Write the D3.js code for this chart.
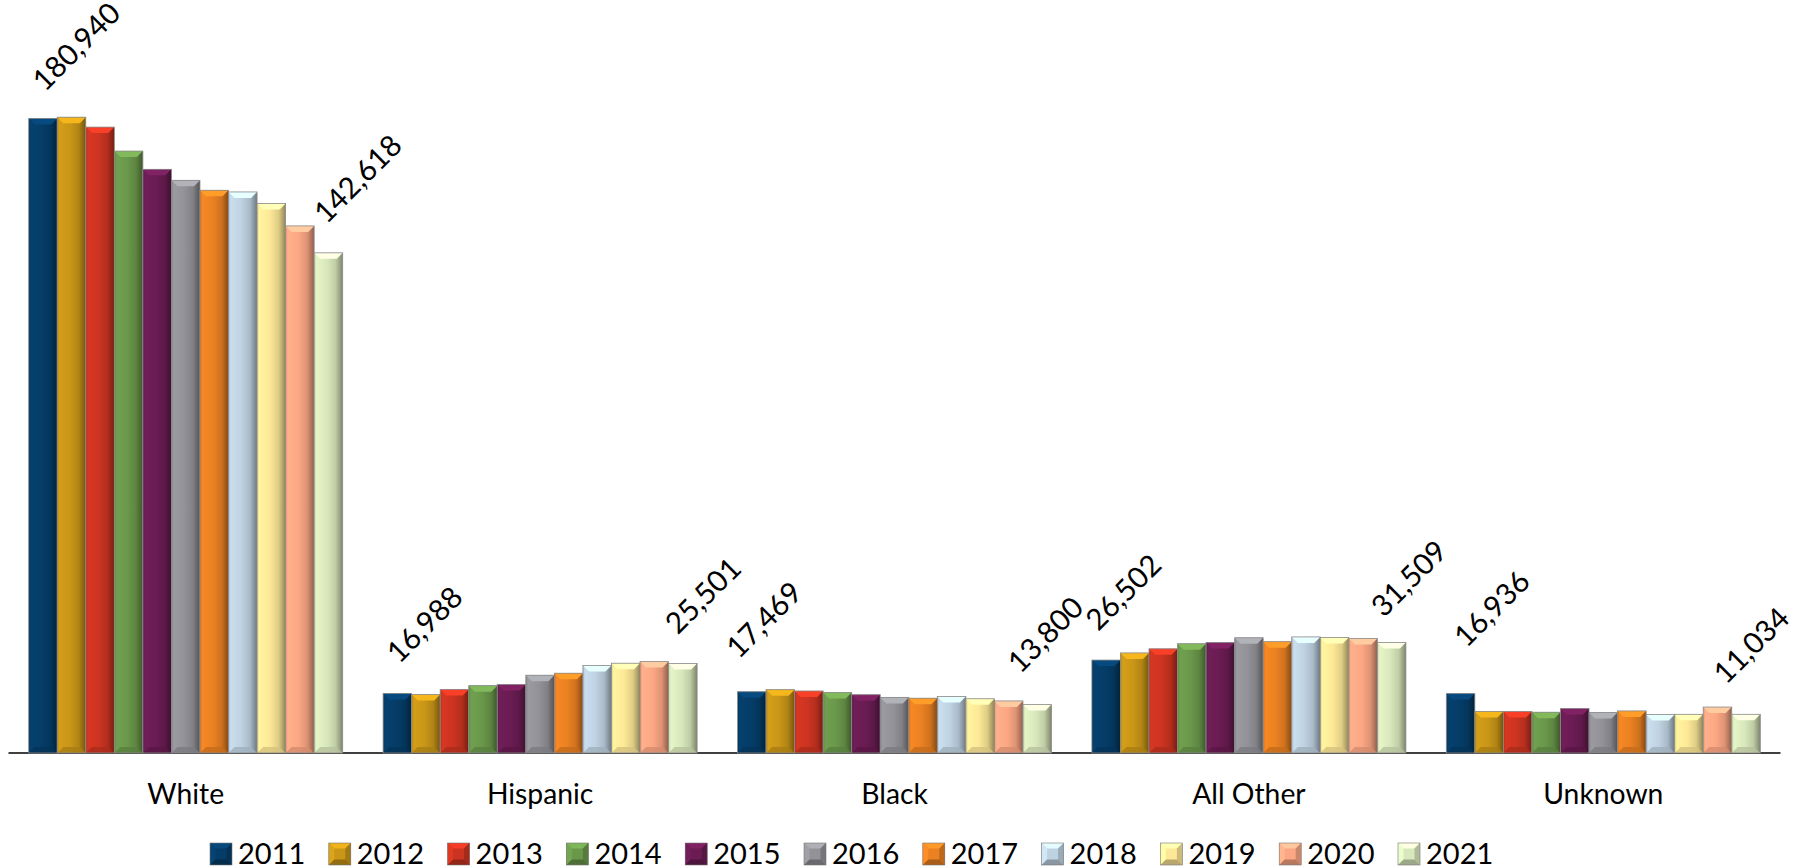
<!DOCTYPE html>
<html>
<head>
<meta charset="utf-8">
<script src="https://cdn.jsdelivr.net/npm/d3@7"></script>
<style>
  html, body { margin: 0; padding: 0; background: #fff; }
  svg { display: block; }
  text { font-family: Lato, "Open Sans", sans-serif; fill: #000; }
</style>
</head>
<body>
<svg id="chart" width="1795" height="866"></svg>
<script>
// ---- DATA ----
const categories = ["White", "Hispanic", "Black", "All Other", "Unknown"];
const years = ["2011","2012","2013","2014","2015","2016","2017","2018","2019","2020","2021"];
const white    = [180940, 181300, 178470, 171640, 166430, 163300, 160460, 159980, 156670, 150300, 142618];
const hispanic = [16988, 16660, 18110, 19210, 19540, 22180, 22750, 24930, 25600, 26060, 25501];
const black    = [17469, 18060, 17690, 17235, 16620, 15860, 15630, 16090, 15470, 14850, 13800];
const allOther = [26502, 28540, 29700, 31160, 31500, 32860, 31740, 33100, 32960, 32620, 31509];
const unknown  = [16936, 11810, 11810, 11630, 12670, 11550, 12000, 10960, 11030, 13110, 11034];
const seriesByCategory = [white, hispanic, black, allOther, unknown];
const colors = ["#053d68", "#c99617", "#cc3421", "#6a984b", "#6a1c53", "#929298",
                "#ea8122", "#bfd2e2", "#fde897", "#fca784", "#d9e8bc"];

// label nudges (first / last label of each category), relative to bar top-centre
const labelNudge = [
  [[2, -26], [-2, -28]],
  [[2, -29], [-5, -28]],
  [[-13, -32], [-17, -30]],
  [[-8, -28], [-8, -24]],
  [[6, -45], [-20, -29]]
];

// ---- LAYOUT ----
const FONT = "Lato, 'Open Sans', sans-serif";
const svg = d3.select("#chart");
const x0 = d3.scaleBand().domain(categories).range([8.5, 1780.5]).paddingInner(0.114).paddingOuter(0.057);
const x1 = d3.scaleBand().domain(years).range([0, x0.bandwidth()]).padding(0);
const y = d3.scaleLinear().domain([0, 200000]).range([753, 753 - 701.4]);

const defs = svg.append("defs");
colors.forEach((c, i) => {
  const base = d3.color(c);
  const g = defs.append("linearGradient").attr("id", "g" + i)
    .attr("x1", "0").attr("x2", "1").attr("y1", "0").attr("y2", "0");
  g.append("stop").attr("offset", "0%").attr("stop-color", base.darker(0.3));
  g.append("stop").attr("offset", "8%").attr("stop-color", base.brighter(0.15));
  g.append("stop").attr("offset", "45%").attr("stop-color", base);
  g.append("stop").attr("offset", "75%").attr("stop-color", base.darker(0.35));
  g.append("stop").attr("offset", "92%").attr("stop-color", base.darker(1.1));
  g.append("stop").attr("offset", "100%").attr("stop-color", base.darker(1.6));
});

// axis baseline + category labels
const axisG = svg.append("g").attr("transform", `translate(0,${y(0)})`)
  .call(d3.axisBottom(x0).tickSize(0).tickPadding(31));
axisG.select(".domain").attr("stroke", "#000").attr("stroke-width", 1.3)
  .attr("d", `M${x0.range()[0]},0H${x0.range()[1]}`);
axisG.selectAll(".tick text").style("font-family", FONT)
  .style("font-size", "28.3px").attr("fill", "#000");

// bars
const groups = svg.append("g").selectAll("g").data(categories).join("g")
  .attr("transform", d => `translate(${x0(d)},0)`);

groups.each(function(cat, ci) {
  const vals = seriesByCategory[ci];
  const g = d3.select(this);
  vals.forEach((v, i) => {
    const bx = x1(years[i]), bw = x1.bandwidth();
    const top = y(v), bot = y(0), h = bot - top;
    const b = Math.min(6, h / 3);
    const base = d3.color(colors[i]);
    const bar = g.append("g");
    bar.append("rect").attr("x", bx).attr("y", top).attr("width", bw).attr("height", h)
      .attr("fill", `url(#g${i})`);
    bar.append("path")
      .attr("d", `M${bx},${top}L${bx + bw},${top}L${bx + bw - b},${top + b}L${bx + b},${top + b}Z`)
      .attr("fill", base.brighter(0.55));
    bar.append("path")
      .attr("d", `M${bx},${bot}L${bx + bw},${bot}L${bx + bw - b},${bot - b}L${bx + b},${bot - b}Z`)
      .attr("fill", base.darker(0.5)).attr("opacity", 0.8);
    bar.append("rect").attr("x", bx).attr("y", top).attr("width", bw).attr("height", h)
      .attr("fill", "none").attr("stroke", "#8a8a8a").attr("stroke-width", 0.8);
  });
  // value labels on first and last bars
  [0, vals.length - 1].forEach((i, k) => {
    const cx = x1(years[i]) + x1.bandwidth() / 2;
    const nd = labelNudge[ci][k];
    const px = cx + nd[0];
    const py = y(vals[i]) + nd[1];
    g.append("text")
      .attr("transform", `translate(${px},${py}) rotate(-45)`)
      .attr("text-anchor", "start")
      .style("font-size", "29.5px")
      .text(d3.format(",")(vals[i]));
  });
});

// legend
const legend = svg.append("g").attr("transform", "translate(210,843)");
const li = legend.selectAll("g").data(years).join("g")
  .attr("transform", (d, i) => `translate(${i * 118.8},0)`);
li.each(function(d, i) {
  const g = d3.select(this);
  const base = d3.color(colors[i]);
  const s = 22, b = 5.5;
  g.append("rect").attr("width", s).attr("height", s).attr("fill", base);
  g.append("path").attr("d", `M0,0L${s},0L${s - b},${b}L${b},${b}Z`).attr("fill", base.brighter(0.5));
  g.append("path").attr("d", `M0,0L${b},${b}L${b},${s - b}L0,${s}Z`).attr("fill", base.brighter(0.25));
  g.append("path").attr("d", `M${s},0L${s},${s}L${s - b},${s - b}L${s - b},${b}Z`).attr("fill", base.darker(0.6));
  g.append("path").attr("d", `M0,${s}L${s},${s}L${s - b},${s - b}L${b},${s - b}Z`).attr("fill", base.darker(0.9));
  g.append("rect").attr("width", s).attr("height", s).attr("fill", "none").attr("stroke", "#777").attr("stroke-width", 0.6);
  g.append("text").attr("x", s + 6).attr("y", s / 2).attr("dy", "0.36em")
    .style("font-size", "29px").text(d);
});
</script>
</body>
</html>
